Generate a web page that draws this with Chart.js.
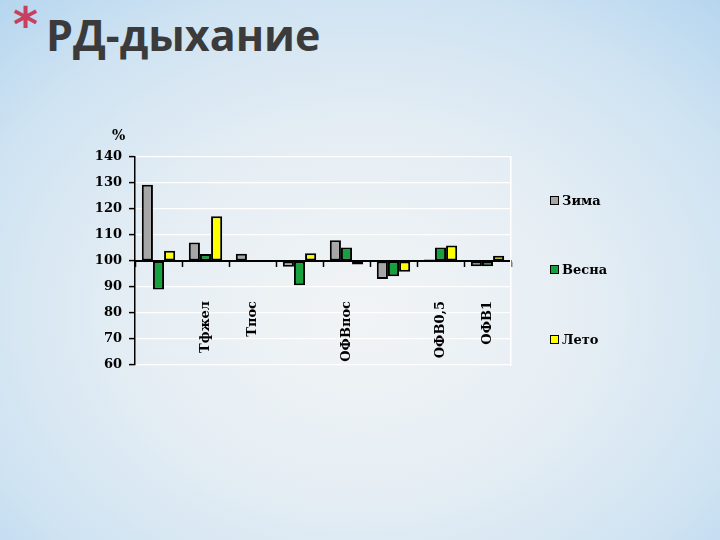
<!DOCTYPE html>
<html lang="ru">
<head>
    <meta charset="UTF-8">
    <title>РД-дыхание</title>
    <script src="https://cdn.jsdelivr.net/npm/chart.js"></script>
    <style>
        html, body { margin: 0; padding: 0; }
        body {
            width: 720px; height: 540px; overflow: hidden; position: relative;
            background: radial-gradient(ellipse 75% 80% at 50% 58%, #f1f4f5 0%, #e6eef4 40%, #cfe3f2 75%, #b4d5ef 100%);
        }
        #asterisco { position: absolute; left: 13px; top: 0px; font: bold 48px "DejaVu Sans"; color: #c9405e; line-height: 1; }
        #titulo {
            position: absolute; left: 46px; top: 13px; line-height: 1;
            font-family: "Open Sans"; font-weight: 700; font-size: 43px; color: #3b3b3b;
            white-space: nowrap;
        }
        #grafico { position: absolute; left: 0; top: 0; }
        #percent { position: absolute; left: 112px; top: 127px; font: bold 14px "DejaVu Serif"; color: #000; }
        .legenda-item { position: absolute; left: 550px; font: bold 13px "DejaVu Serif"; color: #000; line-height: 14px; white-space: nowrap; }
        .legenda-item .box { display: inline-block; width: 7px; height: 7px; border: 1.5px solid #000; margin-right: 3px; vertical-align: 0px; }
    </style>
</head>
<body>

<div id="asterisco">*</div>
<div id="titulo">РД-дыхание</div>
<canvas id="grafico" width="720" height="540"></canvas>
<div id="percent">%</div>
<div id="legenda"></div>

<script>
// categories (empty ones have no label in the original)
const categorias = ['', 'Тфжел', 'Тпос', '', 'ОФВпос', '', 'ОФВ0,5', 'ОФВ1'];
const series = ['Зима', 'Весна', 'Лето'];
const zima  = [129.3, 107.1, 102.8, 97.8, 108, 93.1, 100.6, 98];
const vesna = [89, 102.7, 100, 90.7, 105.2, 94.1, 105.2, 98];
const leto  = [103.9, 117.2, 100, 103, 98.7, 95.9, 106, 102];
const yMin = 60;
const yMax = 140;
const yStep = 10;
const baseValue = 100;

const cores = ['#a6a6a6', '#17a03d', '#ffff00'];
const legendaTop = [194, 263, 333];

const ctx = document.getElementById('grafico').getContext('2d');

const fonteEixo = { family: 'DejaVu Serif', weight: 'bold', size: 13 };
const fonteCat = { family: 'DejaVu Serif', weight: 'bold', size: 13 };

const grafico = new Chart(ctx, {
    type: 'bar',
    data: {
        labels: categorias,
        datasets: [zima, vesna, leto].map((valores, i) => ({
            label: series[i],
            data: valores,
            base: baseValue,
            backgroundColor: cores[i],
            borderColor: '#000',
            borderWidth: 2,
            borderSkipped: false,
            categoryPercentage: 0.71,
            barPercentage: 1.0
        }))
    },
    options: {
        responsive: false,
        animation: false,
        devicePixelRatio: 1,
        layout: { padding: { top: 157, bottom: 175, left: 0, right: 209 } },
        plugins: { legend: { display: false }, tooltip: { enabled: false } },
        scales: {
            x: {
                position: { y: baseValue },
                afterFit: (scale) => { scale.height = 0; },
                border: { display: true, color: '#000', width: 2 },
                grid: { drawOnChartArea: false, offset: true, tickLength: 5, tickColor: '#000', tickWidth: 1.5 },
                ticks: {
                    autoSkip: false, minRotation: 90, maxRotation: 90,
                    padding: 35, color: '#000', font: fonteCat
                }
            },
            y: {
                min: yMin, max: yMax,
                afterFit: (scale) => { scale.width = 135; },
                border: { display: true, color: '#000', width: 1.5 },
                grid: { color: '#ffffff', lineWidth: 1.2, tickColor: '#000', tickLength: 6, tickWidth: 1.5 },
                ticks: { stepSize: yStep, padding: 7, color: '#000', font: fonteEixo }
            },
            y2: {
                position: 'right',
                min: yMin, max: yMax,
                afterFit: (scale) => { scale.width = 0; },
                border: { display: true, color: '#ffffff', width: 1.5 },
                grid: { display: false },
                ticks: { display: false }
            }
        }
    }
});

// legend built from the datasets
const legenda = document.getElementById('legenda');
grafico.data.datasets.forEach((ds, i) => {
    const item = document.createElement('div');
    item.className = 'legenda-item';
    item.style.top = legendaTop[i] + 'px';
    item.innerHTML = `<span class="box" style="background:${ds.backgroundColor}"></span>${ds.label}`;
    legenda.appendChild(item);
});
</script>
</body>
</html>
